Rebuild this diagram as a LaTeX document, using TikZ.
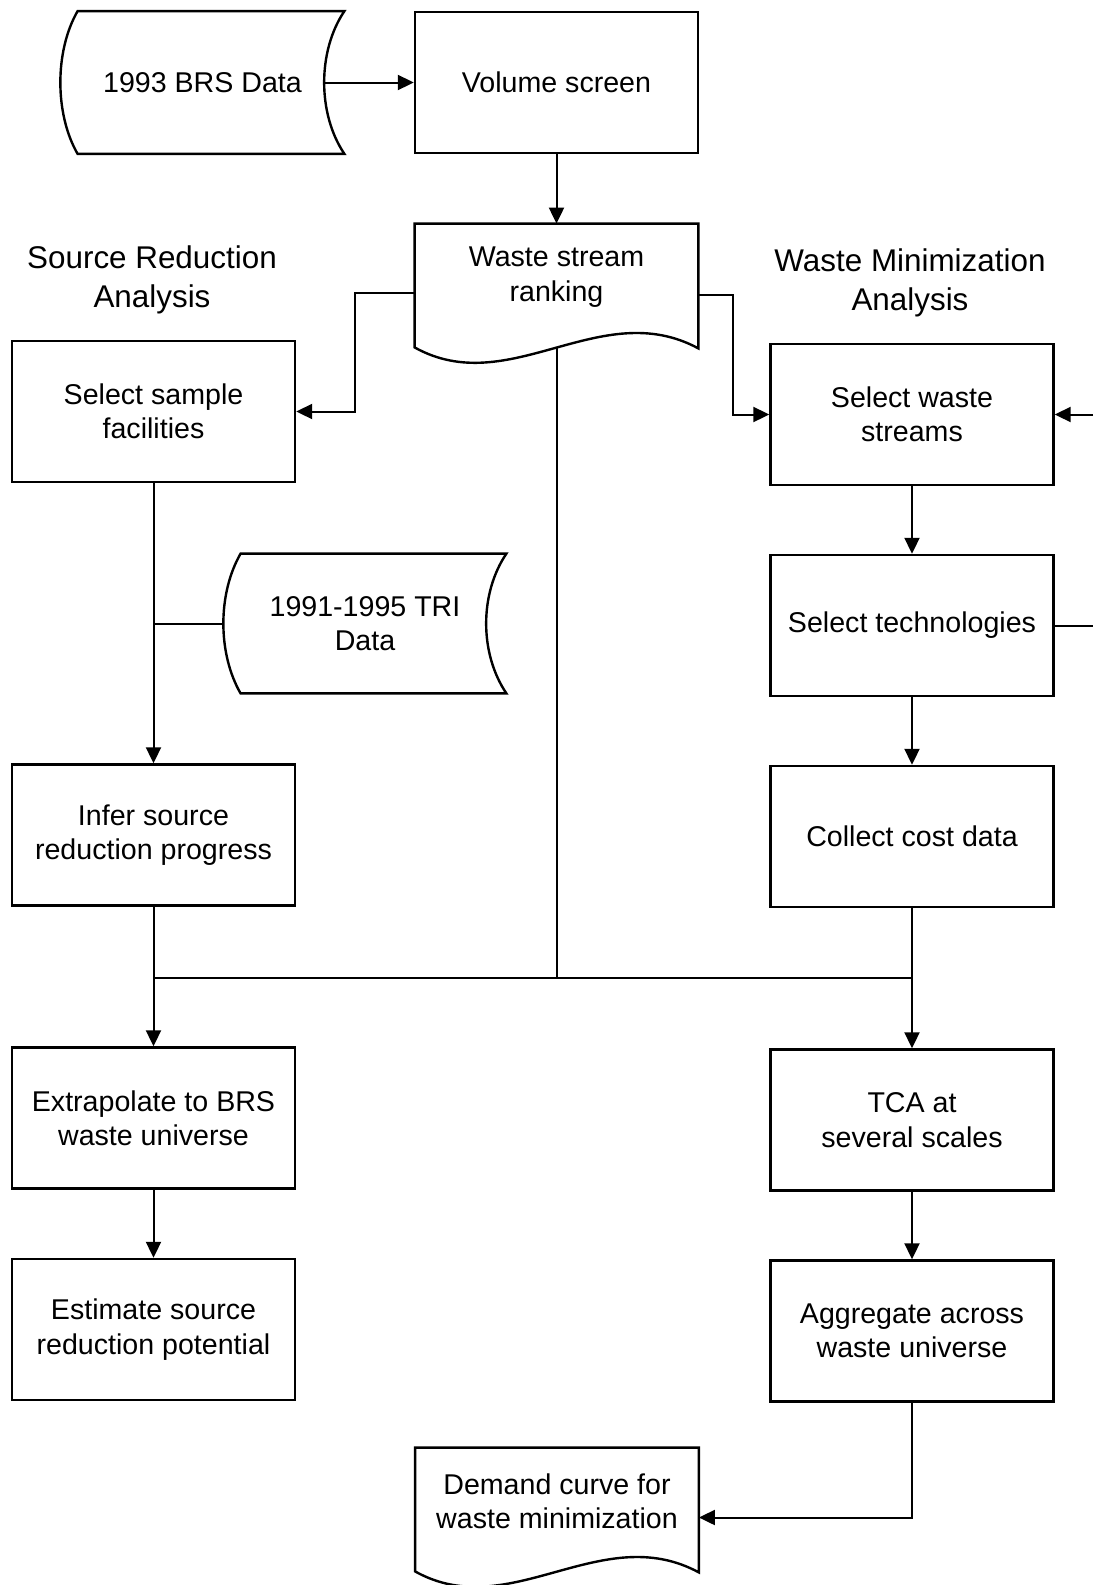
\documentclass[tikz,border=0pt]{standalone}
\usepackage{fontspec}
\setmainfont{Liberation Sans}
\usetikzlibrary{arrows.meta,calc}

% outline of a document (wavy bottom) and of stored data
\newcommand\docoutline[1]{\draw[outline] (#1.north west) -- (#1.north east) -- ($(#1.south east)+(0,18)$) .. controls +(-98,-53) and +(95,53) .. ($(#1.south west)+(0,17)$) -- cycle;}
\newcommand\dataoutline[1]{\draw[outline] ($(#1.north west)+(17,0)$) -- (#1.north east) .. controls +(-27,40) and +(-27,-40) .. (#1.south east) -- ($(#1.south west)+(17,0)$) .. controls +(-23,-40) and +(-23,40) .. ($(#1.north west)+(17,0)$) -- cycle;}

\begin{document}
\begin{tikzpicture}[x=0.5pt,y=-0.5pt,
  every node/.style={font=\fontsize{14.3pt}{17.2pt}\selectfont, align=center, inner sep=0pt},
  outline/.style={line width=1.2pt, line join=miter},
  box/.style={draw, line width=1.2pt, minimum width=141.5pt, minimum height=70.5pt},
  docbox/.style={minimum width=141.5pt, minimum height=53pt},
  databox/.style={minimum width=141.5pt, minimum height=71pt},
  heading/.style={font=\fontsize{15.7pt}{19.2pt}\selectfont},
  link/.style={line width=1pt},
  arr/.style={link, -{Triangle[length=8pt,width=7.5pt]}}]
\useasboundingbox (0,0) rectangle (1093,1585);

% top
\node[databox] (brs) at (202.5,82.5) {1993 BRS Data};
\dataoutline{brs}
\node[box] (vol) at (556.5,82.5) {Volume screen};
\node[docbox] (rank) at (556.5,277) {Waste stream\\ranking};
\docoutline{rank}

% headings
\node[heading] (srlabel) at (152,280) {Source Reduction\\Analysis};
\node[heading] (wmlabel) at (910,283) {Waste Minimization\\Analysis};

% source reduction column
\node[box] (ssf) at (153.5,411.5) {Select sample\\facilities};
\node[databox, minimum width=141pt, minimum height=69.5pt] (tri) at (365,623.5) {1991-1995 TRI\\Data};
\dataoutline{tri}
\node[box] (infer) at (153.5,835) {Infer source\\reduction progress};
\node[box] (extra) at (153.5,1118) {Extrapolate to BRS\\waste universe};
\node[box] (est) at (153.5,1329.5) {Estimate source\\reduction potential};

% waste minimization column
\node[box] (sws) at (912,414.5) {Select waste\\streams};
\node[box] (stech) at (912,625.5) {Select technologies};
\node[box] (cost) at (912,836.5) {Collect cost data};
\node[box] (tca) at (912,1120) {TCA at\\several scales};
\node[box] (agg) at (912,1331) {Aggregate across\\waste universe};
\node[docbox] (demand) at (557,1501) {Demand curve for\\waste minimization};
\docoutline{demand}

\coordinate (jn) at (0,978);
\coordinate (rim) at (1093,0);

% connectors
\draw[arr] ($(brs.east)+(-20,0)$) -- (vol.west);
\draw[arr] (vol.south) -- (rank.north);
\draw[arr] ($(rank.west)+(0,16)$) -- ++(-60,0) |- (ssf.east);
\draw[arr] ($(rank.east)+(0,18)$) -- ++(35,0) |- (sws.west);
\draw[arr] (ssf.south) -- (infer.north);
\draw[link] (tri.west) -- (tri.west -| ssf.south);
\draw[arr] (infer.south) -- (extra.north);
\draw[arr] (extra.south) -- (est.north);
\draw[arr] (sws.south) -- (stech.north);
\draw[arr] (stech.south) -- (cost.north);
\draw[arr] (cost.south) -- (tca.north);
\draw[arr] (tca.south) -- (agg.north);
\draw[link] (infer.south |- jn) -- (cost.south |- jn);
\draw[link] ($(rank.south)+(0,18)$) -- (rank.south |- jn);
\draw[arr] (sws.east -| rim) -- (sws.east);
\draw[link] (stech.east) -- (stech.east -| rim);
\draw[arr] (agg.south) |- ($(demand.east)+(0,16.5)$);
\end{tikzpicture}
\end{document}
